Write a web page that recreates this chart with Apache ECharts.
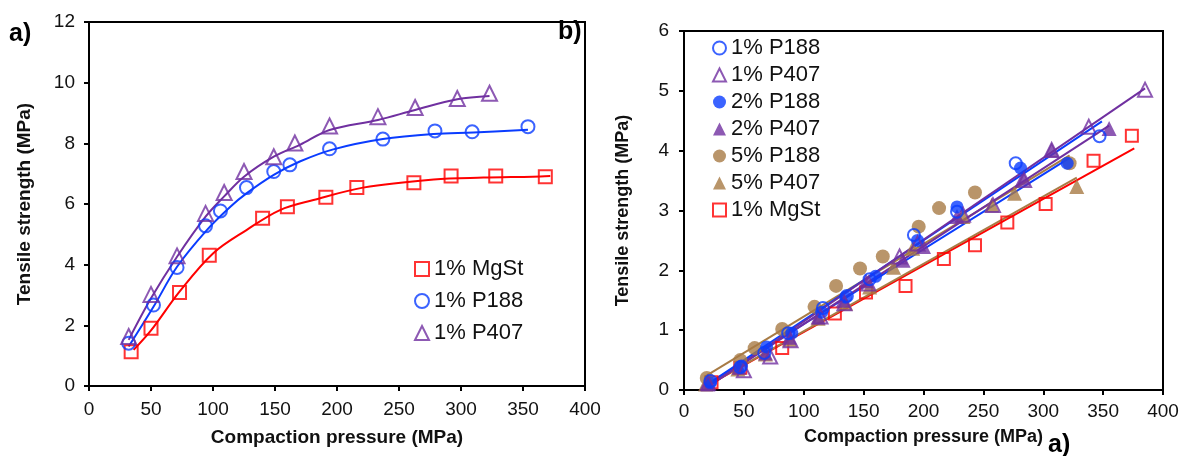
<!DOCTYPE html>
<html><head><meta charset="utf-8">
<script src="https://cdn.jsdelivr.net/npm/echarts@6/dist/echarts.min.js"></script>
<style>html,body{margin:0;padding:0;background:#fff}#c{width:1184px;height:456px}</style>
</head><body><div id="c"></div>
<script>
// ---------- Panel a data ----------
const aMgStX = [34, 50, 73, 97, 140, 160, 191, 216, 262, 292, 328, 368];
const aMgStY = [1.13, 1.90, 3.08, 4.31, 5.53, 5.91, 6.22, 6.54, 6.70, 6.92, 6.92, 6.90];
const aP188X = [32, 52, 71, 94, 106, 127, 149, 162, 194, 237, 279, 309, 354];
const aP188Y = [1.41, 2.67, 3.91, 5.28, 5.77, 6.54, 7.07, 7.29, 7.82, 8.14, 8.41, 8.38, 8.55];
const aP407X = [32, 50, 71, 94, 109, 125, 149, 166, 194, 233, 263, 297, 323];
const aP407Y = [1.63, 3.02, 4.29, 5.69, 6.38, 7.07, 7.56, 8.01, 8.57, 8.88, 9.18, 9.48, 9.65];
// fitted curves
const aFitMgStX = [36, 50, 73, 100, 127, 154, 181, 221, 278, 318, 358, 372];
const aFitMgStY = [1.19, 1.83, 3.11, 4.37, 5.14, 5.80, 6.13, 6.54, 6.81, 6.87, 6.90, 6.92];
const aFitP188X = [32, 52, 71, 95, 114, 127, 149, 170, 197, 237, 278, 310, 354];
const aFitP188Y = [1.30, 2.61, 3.93, 5.14, 5.91, 6.35, 6.96, 7.40, 7.80, 8.14, 8.31, 8.36, 8.45];
const aFitP407X = [32, 50, 71, 94, 109, 125, 149, 170, 194, 233, 263, 297, 323];
const aFitP407Y = [1.52, 2.89, 4.26, 5.58, 6.25, 6.90, 7.56, 7.95, 8.44, 8.77, 9.10, 9.45, 9.56];

// ---------- Panel b data ----------
const b1P188X = [22, 47, 67, 87, 116, 136, 155, 192, 228, 277, 347];
const b1P188Y = [0.15, 0.38, 0.62, 0.95, 1.37, 1.57, 1.85, 2.59, 2.98, 3.79, 4.24];
const b1P407X = [20, 50, 72, 89, 114, 134, 154, 180, 195, 233, 258, 284, 307, 338, 385];
const b1P407Y = [0.12, 0.33, 0.56, 0.83, 1.23, 1.45, 1.78, 2.23, 2.45, 2.93, 3.09, 3.51, 4.01, 4.40, 5.02];
const b2P188X = [22, 48, 69, 90, 115, 135, 160, 195, 228, 281, 320];
const b2P188Y = [0.12, 0.40, 0.72, 0.95, 1.30, 1.55, 1.90, 2.50, 3.06, 3.71, 3.79];
const b2P407X = [20, 46, 68, 88, 112, 133, 152, 183, 200, 228, 283, 307, 355];
const b2P407Y = [0.10, 0.38, 0.62, 0.88, 1.22, 1.50, 1.82, 2.17, 2.40, 2.90, 3.54, 4.01, 4.37];
const b5P188X = [19, 47, 59, 82, 109, 127, 147, 166, 196, 213, 243, 322];
const b5P188Y = [0.20, 0.50, 0.70, 1.02, 1.39, 1.74, 2.03, 2.23, 2.73, 3.04, 3.30, 3.79];
const b5P407X = [18, 45, 68, 88, 112, 135, 155, 175, 191, 233, 257, 276, 328];
const b5P407Y = [0.10, 0.35, 0.60, 0.85, 1.20, 1.45, 1.72, 2.05, 2.37, 2.90, 3.09, 3.29, 3.40];
const bMgStX = [23, 47, 82, 126, 152, 185, 217, 243, 270, 302, 342, 374];
const bMgStY = [0.13, 0.37, 0.70, 1.28, 1.63, 1.74, 2.19, 2.42, 2.80, 3.11, 3.83, 4.25];
// regression lines (end points)
const bFit1P188 = [[20, 349], [0.10, 4.49]];
const bFit1P407 = [[20, 385], [0.05, 5.04]];
const bFit2P188 = [[20, 322], [0.10, 3.88]];
const bFit2P407 = [[20, 355], [0.06, 4.42]];
const bFit5P188 = [[17, 322], [0.22, 3.92]];
const bFit5P407 = [[17, 328], [0.05, 3.55]];
const bFitMgSt = [[19, 376], [0.07, 4.04]];

const RED = '#FF0000', BLUE = '#0A3CFF', PURPLE = '#7030A0', BROWN = '#A87B45';
const FONT = 'Liberation Sans, Arial, sans-serif';
const zip = (xs, ys) => xs.map((x, i) => [x, ys[i]]);

function axisCommon(margin, nameSize) {
  return {
    axisLine: {show: true, onZero: false, lineStyle: {color: '#000', width: 2}},
    axisTick: {show: true, inside: false, length: 5, lineStyle: {color: '#000', width: 2}},
    splitLine: {show: false},
    axisLabel: {color: '#111', fontSize: 19, fontFamily: FONT, margin: margin},
    nameTextStyle: {color: '#111', fontSize: nameSize, fontWeight: 'bold', fontFamily: FONT}
  };
}

function scatter(name, xi, yi, xs, ys, symbol, size, color, filled) {
  return {
    type: 'scatter', name: name, xAxisIndex: xi, yAxisIndex: yi,
    data: zip(xs, ys), symbol: symbol, symbolSize: size, z: 5,
    itemStyle: filled ? {color: color} : {color: 'rgba(255,255,255,0)', borderColor: color, borderWidth: 2}
  };
}
function line(id, xi, yi, xs, ys, color, smooth) {
  return {
    type: 'line', name: id, xAxisIndex: xi, yAxisIndex: yi, data: zip(xs, ys),
    showSymbol: false, symbol: 'none', smooth: smooth ? 0.35 : false, z: 3,
    lineStyle: {color: color, width: 2}, silent: true
  };
}

const chart = echarts.init(document.getElementById('c'), null, {renderer: 'canvas'});
chart.setOption({
  animation: false,
  backgroundColor: '#fff',
  textStyle: {fontFamily: FONT},
  grid: [
    {left: 89, top: 22, width: 496, height: 364, show: true, borderColor: '#000', borderWidth: 2, containLabel: false},
    {left: 684, top: 31, width: 479, height: 359, show: true, borderColor: '#000', borderWidth: 2, containLabel: false}
  ],
  xAxis: [
    Object.assign(axisCommon(14, 19), {gridIndex: 0, type: 'value', min: 0, max: 400, interval: 50,
      name: 'Compaction pressure (MPa)', nameLocation: 'middle', nameGap: 42}),
    Object.assign(axisCommon(12, 18), {gridIndex: 1, type: 'value', min: 0, max: 400, interval: 50,
      name: 'Compaction pressure (MPa)', nameLocation: 'middle', nameGap: 38})
  ],
  yAxis: [
    Object.assign(axisCommon(14, 19), {gridIndex: 0, type: 'value', min: 0, max: 12, interval: 2,
      name: 'Tensile strength (MPa)', nameLocation: 'middle', nameGap: 55}),
    Object.assign(axisCommon(15, 18), {gridIndex: 1, type: 'value', min: 0, max: 6, interval: 1,
      name: 'Tensile strength (MPa)', nameLocation: 'middle', nameGap: 52})
  ],
  legend: [
    {left: 409, top: 253, orient: 'vertical', itemGap: 10, itemWidth: 14, itemHeight: 14,
      textStyle: {fontSize: 22, color: '#111', fontFamily: FONT},
      data: ['1% MgSt', '1% P188', '1% P407']},
    {left: 707, top: 32, orient: 'vertical', itemGap: 5, itemWidth: 13, itemHeight: 13,
      textStyle: {fontSize: 22, color: '#111', fontFamily: FONT},
      data: ['1% P188', '1% P407', '2% P188', '2% P407', '5% P188', '5% P407', '1% MgSt']}
  ],
  graphic: [
    {type: 'text', left: 9, top: 22, style: {text: 'a)', font: 'bold 25px ' + FONT, fill: '#000'}},
    {type: 'text', left: 558, top: 20, style: {text: 'b)', font: 'bold 25px ' + FONT, fill: '#000'}},
    {type: 'text', left: 1048, top: 433, style: {text: 'a)', font: 'bold 25px ' + FONT, fill: '#000'}}
  ],
  series: [
    line('fitA_MgSt', 0, 0, aFitMgStX, aFitMgStY, RED, true),
    line('fitA_P188', 0, 0, aFitP188X, aFitP188Y, BLUE, true),
    line('fitA_P407', 0, 0, aFitP407X, aFitP407Y, PURPLE, true),
    scatter('1% MgSt', 0, 0, aMgStX, aMgStY, 'rect', 13, RED, false),
    scatter('1% P188', 0, 0, aP188X, aP188Y, 'circle', 13, BLUE, false),
    scatter('1% P407', 0, 0, aP407X, aP407Y, 'triangle', 15, PURPLE, false),

    line('fitB_MgSt', 1, 1, bFitMgSt[0], bFitMgSt[1], RED, false),
    line('fitB_5P407', 1, 1, bFit5P407[0], bFit5P407[1], BROWN, false),
    line('fitB_5P188', 1, 1, bFit5P188[0], bFit5P188[1], BROWN, false),
    line('fitB_2P188', 1, 1, bFit2P188[0], bFit2P188[1], BLUE, false),
    line('fitB_1P188', 1, 1, bFit1P188[0], bFit1P188[1], BLUE, false),
    line('fitB_2P407', 1, 1, bFit2P407[0], bFit2P407[1], PURPLE, false),
    line('fitB_1P407', 1, 1, bFit1P407[0], bFit1P407[1], PURPLE, false),
    scatter('1% MgSt', 1, 1, bMgStX, bMgStY, 'rect', 12, RED, false),
    scatter('5% P407', 1, 1, b5P407X, b5P407Y, 'triangle', 15, BROWN, true),
    scatter('5% P188', 1, 1, b5P188X, b5P188Y, 'circle', 14, BROWN, true),
    scatter('2% P407', 1, 1, b2P407X, b2P407Y, 'triangle', 15, PURPLE, true),
    scatter('2% P188', 1, 1, b2P188X, b2P188Y, 'circle', 13, BLUE, true),
    scatter('1% P407', 1, 1, b1P407X, b1P407Y, 'triangle', 14, PURPLE, false),
    scatter('1% P188', 1, 1, b1P188X, b1P188Y, 'circle', 12, BLUE, false)
  ]
});
</script></body></html>
